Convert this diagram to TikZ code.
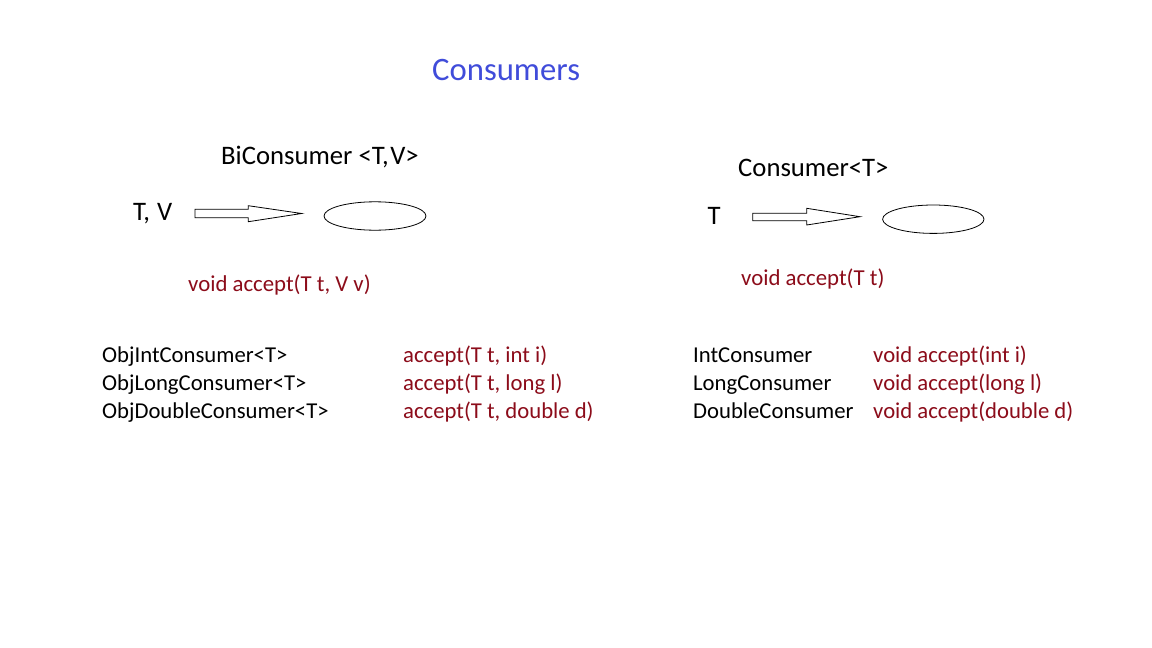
\documentclass[tikz,border=0pt]{standalone}
\usepackage{fontspec}
\setmainfont{Carlito}
\definecolor{titleblue}{RGB}{64,76,218}
\definecolor{codered}{RGB}{140,12,26}
\tikzset{
  lbl/.style={anchor=base west, inner sep=0pt, font=\fontsize{22.7}{26}\selectfont},
  big/.style={anchor=base west, inner sep=0pt, font=\fontsize{26.7}{30}\selectfont},
  code/.style={lbl, text=codered},
  bigcode/.style={anchor=base west, inner sep=0pt, text=codered, font=\fontsize{22.8}{26}\selectfont},
  oval/.style={draw=black, line width=0.8pt, fill=white},
  blockarrow/.style={draw=black, line width=0.8pt, fill=white, line join=miter},
}
\begin{document}
\begin{tikzpicture}[x=1pt,y=-1pt]
\useasboundingbox[fill=white] (0,0) rectangle (1152,648);
% title
\node[anchor=base west, inner sep=0pt, text=titleblue, font=\fontsize{32.7}{36}\selectfont] (title) at (432,80) {Consumers};

% BiConsumer
\node[big] (bihead) at (221,164) {BiConsumer <T,\kern1.5pt V>};
\node[big] (biin) at (133,220) {T,\kern1pt{} V};
\draw[blockarrow] (195,209.3) -- (248.3,209.3) -- (248.3,205.7) -- (301.7,213.5) -- (248.3,221.7) -- (248.3,217.7) -- (195,217.7) -- cycle;
\coordinate (biarrow) at (248,213.5);
\draw[oval] (375,216) ellipse [x radius=51, y radius=14.2];
\node (biov) at (375,216) {};
\node[bigcode] (biacc) at (188,291.5) {void accept(T t, V v)};

% Consumer
\node[big] (chead) at (738,176) {Consumer<T>};
\node[big] (cin) at (707.5,224) {T};
\draw[blockarrow] (752.7,213.3) -- (806.7,213.3) -- (806.7,208.3) -- (860,216.7) -- (806.7,225) -- (806.7,220.7) -- (752.7,220.7) -- cycle;
\coordinate (carrow) at (806,216.7);
\draw[oval] (933.3,219.2) ellipse [x radius=50.7, y radius=14.2];
\node (cov) at (933.3,219.2) {};
\node[bigcode] (cacc) at (741,285) {void accept(T t)};

% left list
\node[lbl] (l1) at (102,362) {ObjIntConsumer<T>};
\node[lbl] (l2) at (102,390) {ObjLongConsumer<T>};
\node[lbl] (l3) at (102,418) {ObjDoubleConsumer<T>};
\node[code] (m1) at (403,362) {accept(T t, int i)};
\node[code] (m2) at (403,390) {accept(T t, long l)};
\node[code] (m3) at (403,418) {accept(T t, double d)};

% right list
\node[lbl] (r1) at (693,362) {IntConsumer};
\node[lbl] (r2) at (693,390) {LongConsumer};
\node[lbl] (r3) at (693,418) {DoubleConsumer};
\node[code] (s1) at (873,362) {void accept(int i)};
\node[code] (s2) at (873,390) {void accept(long l)};
\node[code] (s3) at (873,418) {void accept(double d)};
\end{tikzpicture}
\end{document}
